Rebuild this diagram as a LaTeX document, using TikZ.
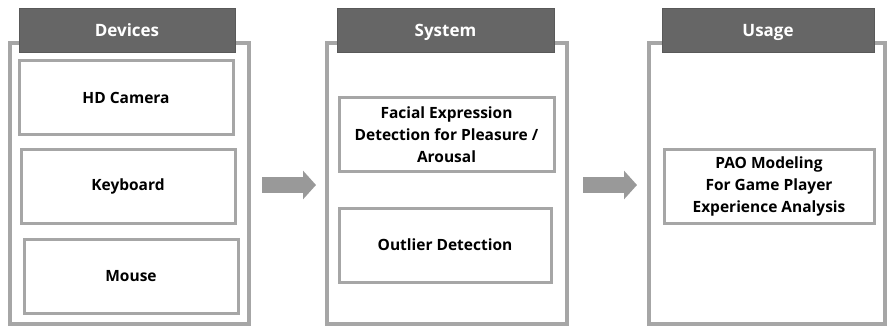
\documentclass[tikz,border=0pt]{standalone}
\usepackage{fontspec}
\setsansfont{Open Sans}
\usepackage{tikz}
\usetikzlibrary{arrows.meta, positioning}
\definecolor{panelgray}{HTML}{A6A6A6}
\definecolor{headgray}{HTML}{666666}
\definecolor{arrowgray}{HTML}{999999}

\begin{document}
\begin{tikzpicture}[x=1pt, y=-1pt,
        panel/.style={rectangle, draw=panelgray, line width=4pt, fill=white, minimum width=#1, minimum height=281pt, inner sep=0pt},
        header/.style={rectangle, fill=headgray, draw=black!65, line width=0.6pt, text=white, minimum width=#1, minimum height=44pt, inner sep=0pt, text height=12.5pt, text depth=0pt, font=\sffamily\bfseries\fontsize{17}{19}\selectfont},
        block/.style={rectangle, draw=panelgray, line width=3pt, fill=white, minimum width=#1, minimum height=74pt, inner sep=0pt, align=center, font=\sffamily\bfseries\fontsize{15.5}{22}\selectfont},
        line/.style={draw=arrowgray, line width=16pt, -{Triangle[length=13pt, width=28pt]}}]
        \useasboundingbox (0,0) rectangle (887,327);

        % outer panels
        \node [panel=239pt] (devpanel) at (129.5,183) {};
        \node [panel=240pt] (syspanel) at (447,183) {};
        \node [panel=236pt] (usepanel) at (767,183.5) {};

        % headers
        \node [header=216pt] (devhead) at (127,30) {Devices};
        \node [header=217pt] (syshead) at (445.5,30) {System};
        \node [header=212pt] (usehead) at (768,30) {Usage};

        % devices
        \node [block=214pt] (camera) at (126,97.5) {HD Camera};
        \node [block=214pt] (keyboard) at (128,186.5) {Keyboard};
        \node [block=214pt] (mouse) at (131,276.5) {Mouse};

        % system
        \node [block=215pt] (facial) at (446.5,134.5) {Facial Expression\\Detection for Pleasure /\\Arousal};
        \node [block=212pt] (outlier) at (445,245) {Outlier Detection};

        % usage
        \node [block=210pt] (pao) at (769,186) {PAO Modeling\\For Game Player\\Experience Analysis};

        \path [line] ([xshift=11pt, yshift=-2pt]devpanel.east) -- ([xshift=-9pt, yshift=-2pt]syspanel.west);
        \path [line] ([xshift=14pt, yshift=-2pt]syspanel.east) -- ([xshift=-10pt, yshift=-1.5pt]usepanel.west);
    \end{tikzpicture}
\end{document}
